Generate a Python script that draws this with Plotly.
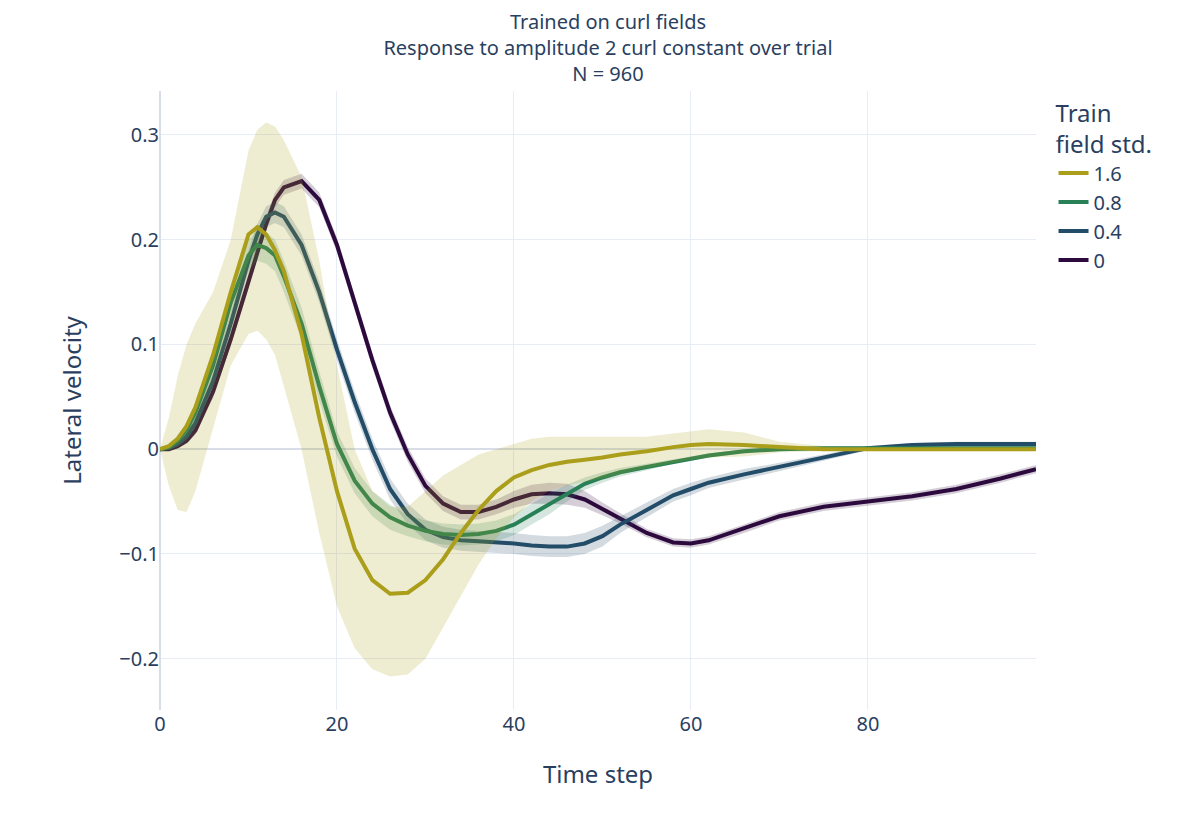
import numpy as np
import plotly.graph_objects as go

# time steps at which values were read
steps = [0, 1, 2, 3, 4, 6, 8, 10, 11, 12, 13, 14, 16, 18, 20, 22, 24, 26, 28, 30, 32, 34,
         36, 38, 40, 42, 44, 46, 48, 50, 52, 55, 58, 60, 62, 66, 70, 75, 80, 85, 90, 95, 99]

mean_16 = [0, 0.003, 0.01, 0.022, 0.04, 0.09, 0.15, 0.205, 0.212, 0.205, 0.19, 0.17, 0.11, 0.03,
           -0.04, -0.095, -0.125, -0.138, -0.137, -0.125, -0.105, -0.08, -0.058, -0.04, -0.027,
           -0.02, -0.015, -0.012, -0.01, -0.008, -0.005, -0.002, 0.002, 0.004, 0.005, 0.004,
           0.002, 0.0, 0, 0, 0, 0, 0]
hi_16 = [0, 0.03, 0.07, 0.1, 0.12, 0.15, 0.2, 0.285, 0.305, 0.312, 0.308, 0.295, 0.26, 0.18,
         0.08, 0.0, -0.04, -0.055, -0.055, -0.04, -0.025, -0.015, -0.005, 0.0, 0.005, 0.01,
         0.012, 0.012, 0.012, 0.012, 0.012, 0.012, 0.015, 0.017, 0.019, 0.016, 0.007, 0.003,
         0.001, 0, 0, 0, 0]
lo_16 = [0, -0.035, -0.058, -0.06, -0.04, 0.02, 0.08, 0.11, 0.113, 0.105, 0.09, 0.06, 0.0,
         -0.08, -0.15, -0.19, -0.21, -0.217, -0.215, -0.2, -0.17, -0.14, -0.11, -0.085, -0.065,
         -0.05, -0.04, -0.035, -0.031, -0.028, -0.024, -0.018, -0.013, -0.01, -0.008, -0.007,
         -0.003, -0.002, -0.001, 0, 0, 0, 0]

mean_08 = [0, 0.002, 0.008, 0.018, 0.035, 0.08, 0.14, 0.185, 0.195, 0.192, 0.185, 0.165, 0.12,
           0.06, 0.005, -0.03, -0.052, -0.065, -0.073, -0.078, -0.081, -0.082, -0.081, -0.078,
           -0.072, -0.062, -0.052, -0.042, -0.033, -0.027, -0.022, -0.017, -0.012, -0.009,
           -0.006, -0.002, 0.0, 0.001, 0.001, 0.001, 0.001, 0.001, 0.001]
std_08 = [0, 0.003, 0.005, 0.006, 0.007, 0.01, 0.012, 0.015, 0.015, 0.015, 0.015, 0.015, 0.015,
          0.014, 0.012, 0.012, 0.012, 0.012, 0.01, 0.01, 0.01, 0.01, 0.01, 0.01, 0.01, 0.01,
          0.01, 0.008, 0.006, 0.005, 0.004, 0.003, 0.002, 0.002, 0.002, 0.002, 0.002, 0.002,
          0.002, 0.002, 0.002, 0.002, 0.002]

mean_04 = [0, 0.001, 0.005, 0.012, 0.025, 0.065, 0.12, 0.18, 0.205, 0.222, 0.226, 0.222, 0.195,
           0.15, 0.095, 0.045, 0.0, -0.038, -0.062, -0.077, -0.084, -0.087, -0.088, -0.089,
           -0.09, -0.092, -0.093, -0.093, -0.09, -0.083, -0.072, -0.058, -0.044, -0.038, -0.032,
           -0.024, -0.017, -0.008, 0.001, 0.004, 0.005, 0.005, 0.005]
std_04 = [0, 0.002, 0.003, 0.005, 0.006, 0.008, 0.01, 0.01, 0.01, 0.01, 0.01, 0.01, 0.01, 0.01,
          0.01, 0.01, 0.01, 0.01, 0.01, 0.01, 0.01, 0.01, 0.01, 0.01, 0.01, 0.01, 0.01, 0.01,
          0.01, 0.01, 0.008, 0.007, 0.006, 0.006, 0.005, 0.005, 0.004, 0.003, 0.002, 0.002,
          0.002, 0.002, 0.002]

mean_0 = [0, 0.0, 0.003, 0.008, 0.018, 0.055, 0.105, 0.16, 0.19, 0.215, 0.238, 0.25, 0.256,
          0.238, 0.195, 0.14, 0.085, 0.035, -0.005, -0.035, -0.052, -0.06, -0.06, -0.055,
          -0.048, -0.043, -0.042, -0.043, -0.048, -0.057, -0.066, -0.08, -0.089, -0.09, -0.087,
          -0.076, -0.064, -0.055, -0.05, -0.045, -0.038, -0.028, -0.019]
std_0 = [0, 0.001, 0.002, 0.003, 0.004, 0.006, 0.006, 0.007, 0.007, 0.007, 0.007, 0.007, 0.007,
         0.007, 0.007, 0.007, 0.007, 0.007, 0.007, 0.007, 0.007, 0.007, 0.007, 0.007, 0.008,
         0.009, 0.01, 0.01, 0.008, 0.006, 0.005, 0.004, 0.004, 0.004, 0.004, 0.004, 0.004,
         0.004, 0.004, 0.004, 0.004, 0.004, 0.004]

m0, s0 = np.array(mean_0), np.array(std_0)
m04, s04 = np.array(mean_04), np.array(std_04)
m08, s08 = np.array(mean_08), np.array(std_08)

series = [
    ("0", "rgb(45, 10, 62)", mean_0, list(m0 + s0), list(m0 - s0)),
    ("0.4", "rgb(35, 76, 104)", mean_04, list(m04 + s04), list(m04 - s04)),
    ("0.8", "rgb(40, 128, 87)", mean_08, list(m08 + s08), list(m08 - s08)),
    ("1.6", "rgb(170, 158, 26)", mean_16, hi_16, lo_16),
]

fig = go.Figure()
for name, color, mean, hi, lo in series:
    fill = color.replace("rgb", "rgba").replace(")", ", 0.2)")
    fig.add_trace(go.Scatter(
        x=steps + steps[::-1], y=hi + lo[::-1], fill="toself", fillcolor=fill,
        line=dict(width=0), hoverinfo="skip", showlegend=False,
    ))
    fig.add_trace(go.Scatter(
        x=steps, y=mean, mode="lines", name=name, line=dict(color=color, width=4),
    ))

fig.update_layout(
    template="plotly_white",
    width=1200, height=830,
    font=dict(family="Noto Sans", size=20, color="#2a3f5f"),
    title=dict(
        text="Trained on curl fields<br>Response to amplitude 2 curl constant over trial<br>N = 960",
        x=0.5, xanchor="center", y=0.975, font=dict(size=20),
    ),
    legend=dict(title=dict(text="Train<br>field std.", font=dict(size=24)),
                traceorder="reversed", font=dict(size=20)),
    margin=dict(l=152, r=172, t=83, b=128, autoexpand=False),
    xaxis=dict(title=dict(text="Time step", font=dict(size=24), standoff=30),
               range=[0, 99], dtick=20, gridcolor="#e8ecf5", automargin=False,
               zerolinecolor="#d8dde8", zerolinewidth=2),
    yaxis=dict(title=dict(text="Lateral velocity", font=dict(size=24), standoff=30),
               range=[-0.249, 0.342], dtick=0.1, gridcolor="#e8ecf5", automargin=False,
               zerolinecolor="#d8dde8", zerolinewidth=2),
)

fig.write_html("out.html")
